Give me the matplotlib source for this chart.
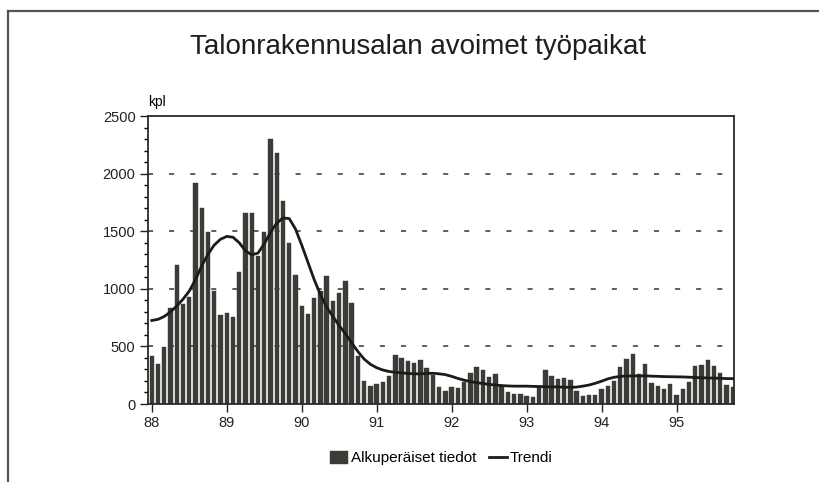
import matplotlib
matplotlib.use('Agg')
import matplotlib.pyplot as plt
from matplotlib.lines import Line2D
from matplotlib.ticker import MultipleLocator

# monthly data, Jan 1988 .. Oct 1995
values = [413, 347, 491, 832, 1208, 867, 931, 1919, 1705, 1491, 983, 775,
          792, 751, 1142, 1662, 1662, 1283, 1491, 2298, 2176, 1763, 1396, 1121,
          847, 780, 916, 983, 1113, 890, 965, 1069, 876, 416, 197, 159,
          173, 191, 246, 425, 399, 370, 358, 382, 309, 254, 147, 115,
          144, 141, 195, 270, 322, 293, 236, 261, 155, 106, 86, 83,
          69, 60, 160, 293, 241, 221, 230, 207, 109, 66, 75, 75,
          132, 155, 198, 322, 394, 431, 259, 345, 184, 158, 126, 172,
          75, 126, 193, 330, 336, 385, 330, 270, 164, 149]

trend = [725, 735, 760, 800, 850, 910, 980, 1080, 1200, 1300, 1380, 1430,
         1455, 1448, 1400, 1330, 1295, 1310, 1390, 1490, 1570, 1615, 1610, 1520,
         1380, 1230, 1080, 950, 840, 760, 680, 610, 530, 455, 390, 345,
         315, 295, 282, 275, 270, 265, 262, 262, 265, 267, 262, 255,
         240, 222, 207, 195, 185, 178, 170, 165, 160, 157, 155, 155,
         155, 153, 152, 150, 149, 148, 146, 145, 147, 155, 165, 180,
         198, 218, 232, 240, 243, 244, 244, 244, 242, 240, 238, 237,
         236, 235, 233, 230, 228, 226, 225, 223, 221, 220]

years = ['88', '89', '90', '91', '92', '93', '94', '95']

plt.rcParams['font.family'] = ['Liberation Sans', 'DejaVu Sans']

fig = plt.figure(figsize=(8.2, 4.82), dpi=100)
ax = fig.add_axes([0.1805, 0.1618, 0.715, 0.5975])

months = list(range(len(values)))
bars = ax.bar(months, values, width=0.7, color='#3d3b37', edgecolor='#3d3b37',
              linewidth=0.3, label='Alkuperäiset tiedot', zorder=2)
line, = ax.plot(months, trend, color='#1c1b19', lw=2.0, label='Trendi', zorder=3)

for y in [500, 1000, 1500, 2000]:
    ax.axhline(y, color='#333333', lw=1.1, dashes=(3.3, 10.5), zorder=1)

ax.set_xlim(-0.6, 93.25)
ax.set_ylim(0, 2500)
ax.set_xticks([12 * k for k in range(len(years))])
ax.set_xticklabels(years)
ax.yaxis.set_major_locator(MultipleLocator(500))
ax.yaxis.set_minor_locator(MultipleLocator(100))
ax.tick_params(axis='both', which='major', direction='out', length=5.5,
               width=1, labelsize=10.5, colors='#222222')
ax.tick_params(axis='y', which='minor', direction='out', length=3, width=1)
ax.tick_params(axis='x', pad=3)
for s in ax.spines.values():
    s.set_linewidth(1.3)
    s.set_color('#2a2a2a')

fig.text(0.191, 0.774, 'kpl', fontsize=10, ha='center', va='bottom')
fig.text(0.51, 0.902, 'Talonrakennusalan avoimet työpaikat', fontsize=20,
         ha='center', va='center', color='#1e1e1e')

ax.legend([bars, line], ['Alkuperäiset tiedot', 'Trendi'],
          loc='upper center', bbox_to_anchor=(0.5, -0.115), ncol=2,
          frameon=False, fontsize=11, handlelength=1.2, handletextpad=0.2,
          columnspacing=0.8, handleheight=0.9)

# page frame
fig.add_artist(Line2D([0.01, 0.01], [0.0, 0.977], color='#555550', lw=1.6))
fig.add_artist(Line2D([0.01, 1.0], [0.977, 0.977], color='#555550', lw=1.6))

fig.savefig('out.png', dpi=100)
